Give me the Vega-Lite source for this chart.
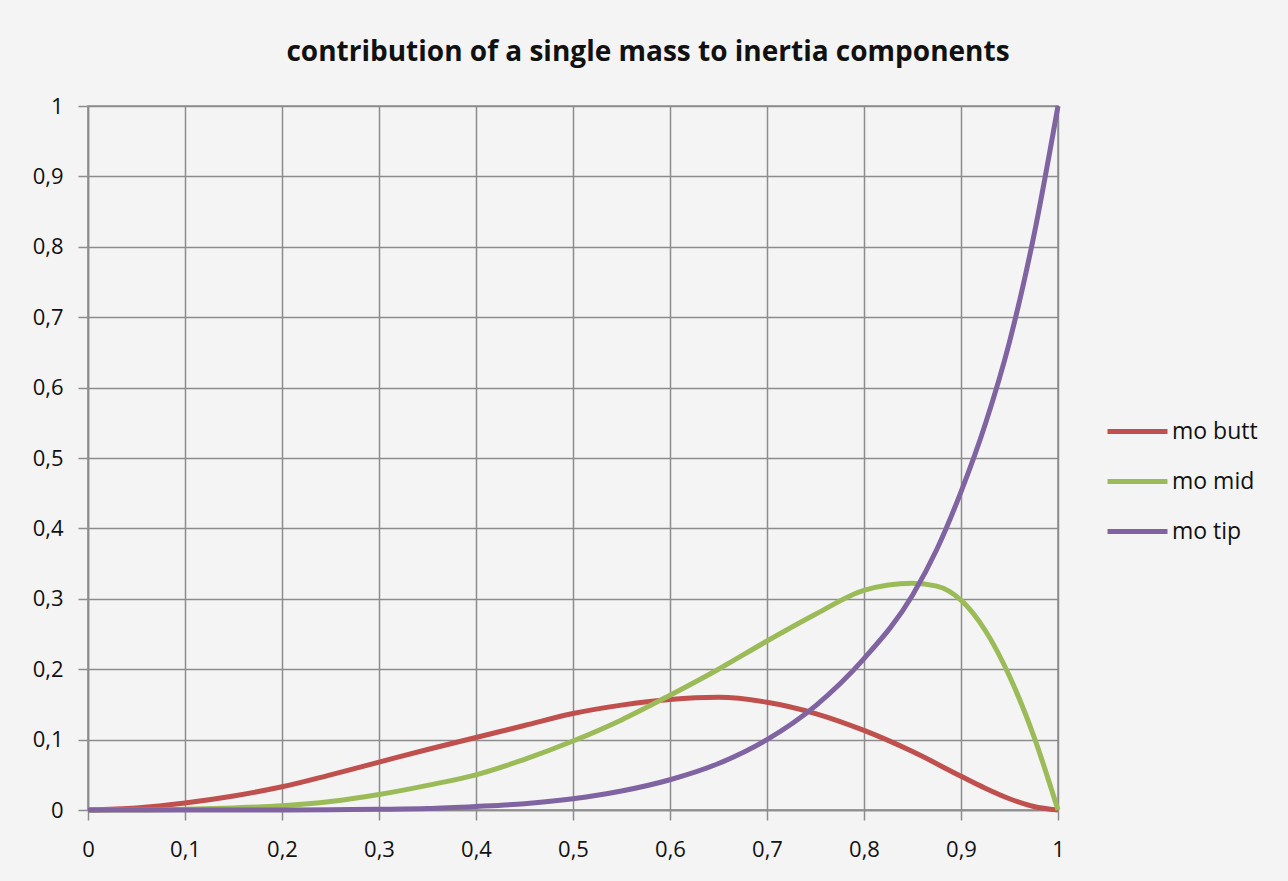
{
  "$schema": "https://vega.github.io/schema/vega-lite/v6.json",
  "width": 970,
  "height": 704,
  "autosize": {"type": "none"},
  "padding": {"left": 88, "top": 106, "right": 230, "bottom": 71},
  "background": "#f4f4f4",
  "title": {
    "text": "contribution of a single mass to inertia components",
    "fontSize": 28,
    "font": "Open Sans",
    "fontWeight": "bold",
    "color": "#111111",
    "anchor": "middle",
    "dx": 75,
    "offset": 28
  },
  "data": {
    "values": [
      {"x": 0, "s": "mo butt", "y": 0}, {"x": 0.05, "s": "mo butt", "y": 0.003}, {"x": 0.1, "s": "mo butt", "y": 0.01}, {"x": 0.15, "s": "mo butt", "y": 0.02}, {"x": 0.2, "s": "mo butt", "y": 0.033}, {"x": 0.25, "s": "mo butt", "y": 0.05}, {"x": 0.3, "s": "mo butt", "y": 0.068}, {"x": 0.35, "s": "mo butt", "y": 0.086}, {"x": 0.4, "s": "mo butt", "y": 0.103}, {"x": 0.45, "s": "mo butt", "y": 0.12}, {"x": 0.5, "s": "mo butt", "y": 0.137}, {"x": 0.55, "s": "mo butt", "y": 0.149}, {"x": 0.6, "s": "mo butt", "y": 0.157}, {"x": 0.65, "s": "mo butt", "y": 0.16}, {"x": 0.7, "s": "mo butt", "y": 0.153}, {"x": 0.75, "s": "mo butt", "y": 0.137}, {"x": 0.8, "s": "mo butt", "y": 0.113}, {"x": 0.85, "s": "mo butt", "y": 0.083}, {"x": 0.9, "s": "mo butt", "y": 0.048}, {"x": 0.925, "s": "mo butt", "y": 0.031}, {"x": 0.95, "s": "mo butt", "y": 0.016}, {"x": 0.975, "s": "mo butt", "y": 0.005}, {"x": 1, "s": "mo butt", "y": 0},
      {"x": 0, "s": "mo mid", "y": 0}, {"x": 0.05, "s": "mo mid", "y": 0}, {"x": 0.1, "s": "mo mid", "y": 0.001}, {"x": 0.15, "s": "mo mid", "y": 0.003}, {"x": 0.2, "s": "mo mid", "y": 0.006}, {"x": 0.25, "s": "mo mid", "y": 0.012}, {"x": 0.3, "s": "mo mid", "y": 0.022}, {"x": 0.35, "s": "mo mid", "y": 0.035}, {"x": 0.4, "s": "mo mid", "y": 0.05}, {"x": 0.45, "s": "mo mid", "y": 0.072}, {"x": 0.5, "s": "mo mid", "y": 0.098}, {"x": 0.55, "s": "mo mid", "y": 0.128}, {"x": 0.6, "s": "mo mid", "y": 0.163}, {"x": 0.65, "s": "mo mid", "y": 0.2}, {"x": 0.7, "s": "mo mid", "y": 0.24}, {"x": 0.75, "s": "mo mid", "y": 0.278}, {"x": 0.8, "s": "mo mid", "y": 0.312}, {"x": 0.85, "s": "mo mid", "y": 0.322}, {"x": 0.875, "s": "mo mid", "y": 0.318}, {"x": 0.9, "s": "mo mid", "y": 0.298}, {"x": 0.925, "s": "mo mid", "y": 0.255}, {"x": 0.95, "s": "mo mid", "y": 0.19}, {"x": 0.975, "s": "mo mid", "y": 0.105}, {"x": 1, "s": "mo mid", "y": 0},
      {"x": 0, "s": "mo tip", "y": 0}, {"x": 0.05, "s": "mo tip", "y": 0}, {"x": 0.1, "s": "mo tip", "y": 0}, {"x": 0.15, "s": "mo tip", "y": 0}, {"x": 0.2, "s": "mo tip", "y": 0}, {"x": 0.25, "s": "mo tip", "y": 0.0005}, {"x": 0.3, "s": "mo tip", "y": 0.001}, {"x": 0.35, "s": "mo tip", "y": 0.002}, {"x": 0.4, "s": "mo tip", "y": 0.005}, {"x": 0.45, "s": "mo tip", "y": 0.009}, {"x": 0.5, "s": "mo tip", "y": 0.016}, {"x": 0.55, "s": "mo tip", "y": 0.027}, {"x": 0.6, "s": "mo tip", "y": 0.043}, {"x": 0.65, "s": "mo tip", "y": 0.066}, {"x": 0.7, "s": "mo tip", "y": 0.1}, {"x": 0.75, "s": "mo tip", "y": 0.148}, {"x": 0.8, "s": "mo tip", "y": 0.215}, {"x": 0.85, "s": "mo tip", "y": 0.305}, {"x": 0.875, "s": "mo tip", "y": 0.37}, {"x": 0.9, "s": "mo tip", "y": 0.452}, {"x": 0.925, "s": "mo tip", "y": 0.548}, {"x": 0.95, "s": "mo tip", "y": 0.665}, {"x": 0.975, "s": "mo tip", "y": 0.815}, {"x": 1, "s": "mo tip", "y": 1}
    ]
  },
  "mark": {"type": "line", "interpolate": "monotone", "strokeWidth": 5, "clip": false},
  "encoding": {
    "x": {
      "field": "x", "type": "quantitative",
      "scale": {"domain": [0, 1], "nice": false, "zero": false},
      "axis": {"title": null, "values": [0, 0.1, 0.2, 0.3, 0.4, 0.5, 0.6, 0.7, 0.8, 0.9, 1], "format": ".1~f", "labelExpr": "replace(datum.label, '.', ',')", "labelPadding": 19, "tickSize": 10, "labelFlush": false, "labelFontSize": 22, "labelFont": "Open Sans"}
    },
    "y": {
      "field": "y", "type": "quantitative",
      "scale": {"domain": [0, 1], "nice": false},
      "axis": {"title": null, "values": [0, 0.1, 0.2, 0.3, 0.4, 0.5, 0.6, 0.7, 0.8, 0.9, 1], "format": ".1~f", "labelExpr": "replace(datum.label, '.', ',')", "labelPadding": 15, "tickSize": 10, "labelFlush": false, "labelFontSize": 22, "labelFont": "Open Sans"}
    },
    "color": {
      "field": "s", "type": "nominal",
      "scale": {"domain": ["mo butt", "mo mid", "mo tip"], "range": ["#C0504D", "#9BBB59", "#8064A2"]},
      "legend": {
        "title": null, "orient": "none", "legendX": 1017, "legendY": 293,
        "symbolType": "stroke", "symbolSize": 3600, "symbolStrokeWidth": 5,
        "labelFontSize": 23, "labelFont": "Open Sans", "labelColor": "#111111", "labelOffset": 2, "rowPadding": 5
      }
    }
  },
  "config": {
    "view": {"stroke": "#8c8c8c", "strokeWidth": 1.5},
    "axis": {
      "gridColor": "#8c8c8c", "gridWidth": 1.5, "gridOpacity": 1,
      "domainColor": "#8c8c8c", "domainWidth": 1.5,
      "tickColor": "#8c8c8c", "tickWidth": 1.5,
      "labelColor": "#111111"
    }
  }
}
